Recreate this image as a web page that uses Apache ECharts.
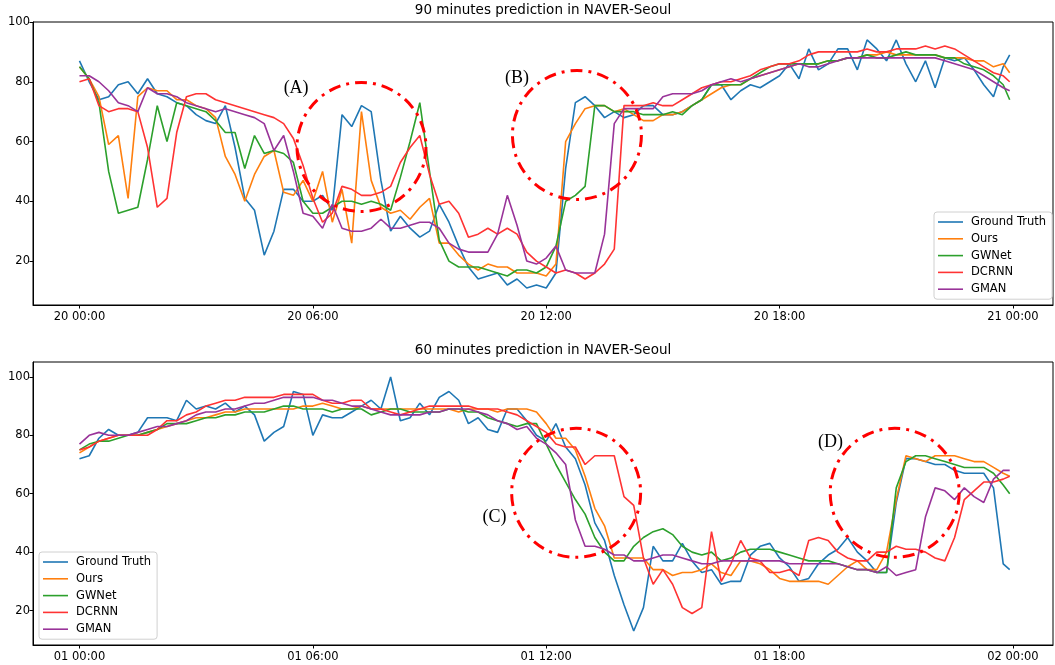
<!DOCTYPE html>
<html>
<head>
<meta charset="utf-8">
<script src="https://cdn.jsdelivr.net/npm/echarts@6/dist/echarts.min.js"></script>
<style>
  html, body { margin: 0; padding: 0; background: #fff; }
  #chart { width: 1055px; height: 665px; }
</style>
</head>
<body>
<div id="chart"></div>
<script>
// ---------- data ----------
const seriesNames = ['Ground Truth', 'Ours', 'GWNet', 'DCRNN', 'GMAN'];
const seriesColors = ['#1f77b4', '#ff7f0e', '#2ca02c', '#ff3333', '#993399'];

// time in hours (15-minute samples, last sample at 23:55)
const times = [];
for (let i = 0; i < 96; i++) times.push(i * 0.25);
times.push(23 + 55 / 60);

const tickHours = [0, 6, 12, 18, 24];
const topTickLabels = ['20 00:00', '20 06:00', '20 12:00', '20 18:00', '21 00:00'];
const botTickLabels = ['01 00:00', '01 06:00', '01 12:00', '01 18:00', '02 00:00'];
const yTicks = [20, 40, 60, 80, 100];

const topTitle = '90 minutes prediction in NAVER-Seoul';
const botTitle = '60 minutes prediction in NAVER-Seoul';

// ---- 90 minutes (top) ----
const gtTop = [87,80,74,75,79, 80,76,81,76,75, 73,72,69,67,66, 72,58,41,37,22,
  30,44,44,40,40, 42,37,69,65,72, 70,47,30,35,31, 28,30,39,33,25,
  18,14,15,16,12, 14,11,12,11,16, 51,73,75,72,68, 70,68,69,72,72,
  69,69,70,72,74, 79,79,74,77,79, 78,80,82,86,81, 91,84,86,91,91,
  84,94,91,87,94, 86,80,87,78,88, 87,88,84,79,75, 85,89];
const oursTop = [85,81,75,59,62, 41,75,78,77,77, 74,74,72,71,68, 55,49,40,49,55,
  57,43,42,47,40, 50,33,44,26,70, 47,38,36,37,34, 38,41,26,26,22,
  19,17,19,18,18, 16,16,16,15,19, 60,66,71,72,72, 70,71,69,67,67,
  69,69,70,72,74, 76,78,79,79,81, 82,83,84,85,86, 86,86,87,87,88,
  88,89,89,90,89, 89,89,89,89,88, 88,88,87,87,85, 86,83];
const gwTop = [85,81,73,50,36, 37,38,54,72,60, 73,72,71,70,67, 63,63,51,62,56,
  57,56,53,40,36, 36,38,40,40,39, 40,39,37,48,60, 73,50,27,20,18,
  18,18,17,16,15, 17,17,16,18,25, 40,42,45,72,72, 70,70,70,69,69,
  69,70,69,72,74, 79,79,79,79,81, 83,85,86,86,86, 86,86,87,87,88,
  88,89,88,88,89, 90,89,89,89,88, 88,86,85,84,82, 79,74];
const dcTop = [80,81,72,70,71, 71,70,58,38,41, 63,75,76,76,74, 73,72,71,70,69,
  68,66,61,52,41, 33,36,45,44,42, 42,43,45,53,58, 62,49,39,40,36,
  28,29,31,29,31, 29,23,20,18,16, 17,16,14,16,19, 24,72,72,72,73,
  72,72,74,76,78, 79,80,80,81,82, 84,85,86,86,87, 89,90,90,90,90,
  90,91,90,90,91, 91,91,92,91,92, 91,89,87,85,83, 82,80];
const gmTop = [82,82,80,77,73, 72,70,78,76,76, 75,73,72,71,70, 71,70,69,68,66,
  57,62,50,36,35, 31,39,31,30,30, 31,34,31,31,32, 33,33,31,26,24,
  23,23,23,29,42, 32,20,19,21,25, 17,16,16,16,29, 66,71,71,71,71,
  75,76,76,76,77, 79,80,81,80,81, 82,83,84,85,86, 85,85,86,87,88,
  88,88,88,88,88, 88,88,88,88,87, 86,85,84,82,80, 78,77];

// ---- 60 minutes (bottom) ----
const gtBot = [72,73,79,82,80, 80,81,86,86,86, 85,92,89,90,89, 91,88,90,87,78,
  81,83,95,94,80, 87,86,86,88,90, 92,89,100,85,86, 91,87,93,95,92,
  84,86,82,81,89, 89,85,80,78,84, 76,72,63,50,44, 32,22,13,21,42,
  37,37,43,37,33, 34,29,30,30,39, 42,43,38,35,30, 31,36,39,41,45,
  40,37,33,33,57, 72,72,71,70,70, 68,67,67,67,62, 36,34];
const oursBot = [74,76,78,79,80, 80,80,81,82,83, 84,85,86,86,87, 88,88,89,89,89,
  89,89,89,90,90, 91,90,89,89,90, 89,89,89,89,89, 89,89,89,89,88,
  89,89,89,88,89, 89,89,88,84,79, 79,75,66,55,49, 38,38,38,38,34,
  34,32,33,33,34, 36,33,32,37,37, 36,34,31,30,30, 30,30,29,32,35,
  37,34,34,40,58, 73,72,71,73,73, 73,72,71,71,69, 67,66];
const gwBot = [75,77,78,78,79, 80,80,81,82,84, 84,84,85,86,86, 87,87,88,88,88,
  89,90,90,89,89, 89,88,89,89,89, 87,88,89,89,88, 88,88,88,89,89,
  88,88,86,85,84, 83,84,84,77,70, 64,58,53,45,40, 37,37,42,45,47,
  48,46,42,40,39, 40,37,38,40,41, 41,41,40,39,38, 37,37,37,36,35,
  34,34,33,33,62, 71,73,73,72,71, 70,69,69,69,67, 63,60];
const dcBot = [75,76,78,79,80, 80,80,80,82,85, 85,87,88,90,91, 92,92,93,93,93,
  93,94,94,94,94, 92,91,91,92,92, 89,89,88,87,88, 89,90,90,90,90,
  90,89,89,89,88, 87,85,83,81,77, 76,76,70,73,73, 73,59,56,38,29,
  34,29,21,19,21, 47,30,36,44,38, 37,33,33,34,32, 44,45,44,40,38,
  37,37,40,40,42, 41,41,40,38,37, 45,58,61,64,64, 65,66];
const gmBot = [77,80,81,80,80, 80,81,82,83,83, 84,85,87,88,88, 89,89,90,91,91,
  92,93,93,93,93, 92,92,91,90,90, 89,88,87,87,87, 87,88,88,89,89,
  89,88,87,85,84, 82,83,79,77,74, 70,51,42,42,41, 39,39,37,37,38,
  39,39,38,37,36, 36,37,37,37,37, 37,37,37,36,36, 36,36,36,36,35,
  34,34,33,35,32, 33,34,52,62,61, 58,62,59,57,65, 68,68];

// annotation marks (data coordinates)
const annoCircles = [
  { grid: 0, t: 7.25, v: 58.2 },
  { grid: 0, t: 12.79, v: 62.2 },
  { grid: 1, t: 12.77, v: 60.3 },
  { grid: 1, t: 20.96, v: 60.3 }
];
const annoLabels = [
  { grid: 0, t: 5.57, v: 77.8, text: '(A)' },
  { grid: 0, t: 11.25, v: 81.3, text: '(B)' },
  { grid: 1, t: 10.67, v: 51.9, text: '(C)' },
  { grid: 1, t: 19.31, v: 77.7, text: '(D)' }
];

// ---------- chart ----------
const FONT = 'DejaVu Sans';
const chart = echarts.init(document.getElementById('chart'), null, { renderer: 'canvas' });

function pairs(vals) { return vals.map((v, i) => [times[i], v]); }

function xAxisDef(gi, labels) {
  return {
    type: 'value', gridIndex: gi, min: -1.195, max: 25.03, position: 'bottom',
    axisLine: { show: true, onZero: false, lineStyle: { color: '#000', width: 1 } },
    splitLine: { show: false },
    axisTick: { show: true, inside: false, customValues: tickHours, length: 3.5, lineStyle: { color: '#000', width: 1 } },
    axisLabel: {
      customValues: tickHours, margin: 6, fontSize: 11.5, fontFamily: FONT, color: '#000',
      formatter: function (v) { return labels[tickHours.indexOf(Math.round(v))] || ''; }
    }
  };
}
function yAxisDef(gi, mn, mx) {
  return {
    type: 'value', gridIndex: gi, min: mn, max: mx, position: 'left',
    axisLine: { show: true, onZero: false, lineStyle: { color: '#000', width: 1 } },
    splitLine: { show: false },
    axisTick: { show: true, inside: false, customValues: yTicks, length: 3.5, lineStyle: { color: '#000', width: 1 } },
    axisLabel: { customValues: yTicks, margin: 3, fontSize: 11.5, fontFamily: FONT, color: '#000' }
  };
}

const topData = [gtTop, oursTop, gwTop, dcTop, gmTop];
const botData = [gtBot, oursBot, gwBot, dcBot, gmBot];
const series = [];
[topData, botData].forEach(function (set, gi) {
  set.forEach(function (vals, k) {
    series.push({
      name: seriesNames[k], type: 'line', xAxisIndex: gi, yAxisIndex: gi,
      data: pairs(vals), symbol: 'none', showSymbol: false, animation: false,
      lineStyle: { color: seriesColors[k], width: 1.6 },
      itemStyle: { color: seriesColors[k] },
      emphasis: { disabled: true }
    });
  });
});

function legendDef(left, top) {
  return {
    orient: 'vertical', left: left, top: top,
    itemWidth: 25, itemHeight: 12, itemGap: 4.8,
    padding: [4, 6, 4, 4],
    backgroundColor: '#fff', borderColor: '#d0d0d0', borderWidth: 1, borderRadius: 3,
    textStyle: { fontSize: 11.5, fontFamily: FONT, color: '#000', padding: [0, 0, 0, 3] },
    data: seriesNames.map(n => ({ name: n, icon: 'path://M0,0L25,0L25,1.6L0,1.6Z' })),
    selectedMode: false
  };
}

chart.setOption({
  animation: false,
  backgroundColor: '#fff',
  color: seriesColors,
  title: [
    { text: topTitle, left: 543, top: 3, textAlign: 'center', padding: 0,
      textStyle: { fontSize: 13.5, fontWeight: 'normal', fontFamily: FONT, color: '#000' } },
    { text: botTitle, left: 543, top: 343, textAlign: 'center', padding: 0,
      textStyle: { fontSize: 13.5, fontWeight: 'normal', fontFamily: FONT, color: '#000' } }
  ],
  grid: [
    { left: 33, top: 22, width: 1020, height: 283, show: true, borderColor: '#000', borderWidth: 1, backgroundColor: 'transparent' },
    { left: 33, top: 362, width: 1020, height: 283, show: true, borderColor: '#000', borderWidth: 1, backgroundColor: 'transparent' }
  ],
  xAxis: [xAxisDef(0, topTickLabels), xAxisDef(1, botTickLabels)],
  yAxis: [yAxisDef(0, 5.3, 100), yAxisDef(1, 8.2, 105.1)],
  legend: [legendDef(934, 212), legendDef(39, 552)],
  series: series
});

// annotations placed through the axes' scales
const graphics = [];
annoCircles.forEach(function (c) {
  const p = chart.convertToPixel({ xAxisIndex: c.grid, yAxisIndex: c.grid }, [c.t, c.v]);
  graphics.push({
    type: 'circle', z: 100, silent: true,
    shape: { cx: p[0], cy: p[1], r: 64.5 },
    style: { fill: 'none', stroke: '#ff0000', lineWidth: 3, lineDash: [12, 6, 3, 6] }
  });
});
annoLabels.forEach(function (l) {
  const p = chart.convertToPixel({ xAxisIndex: l.grid, yAxisIndex: l.grid }, [l.t, l.v]);
  graphics.push({
    type: 'text', z: 101, silent: true, x: p[0], y: p[1],
    style: { text: l.text, fontSize: 18, fontFamily: 'Liberation Serif', fill: '#000',
      align: 'center', verticalAlign: 'middle' }
  });
});
chart.setOption({ graphic: graphics });
</script>
</body>
</html>
